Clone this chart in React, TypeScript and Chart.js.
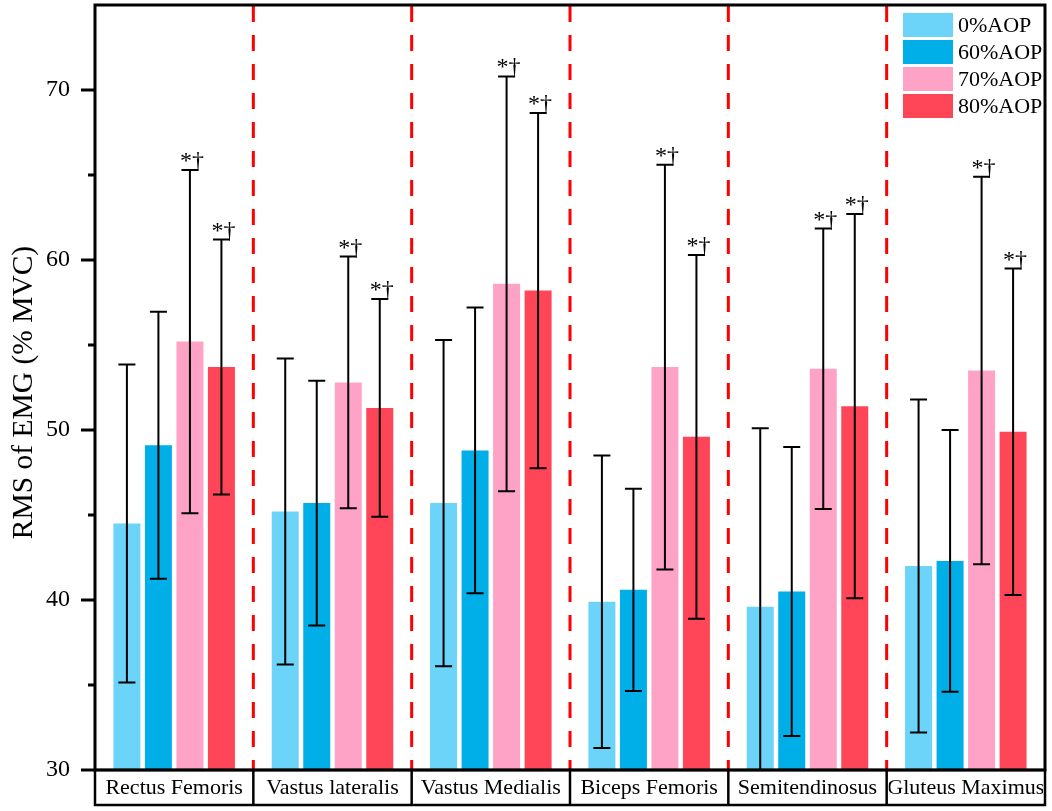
import React, { useEffect, useRef } from 'react';
import { Chart, registerables } from 'chart.js';

Chart.register(...registerables);

const categories = ['Rectus Femoris', 'Vastus lateralis', 'Vastus Medialis', 'Biceps Femoris', 'Semitendinosus', 'Gluteus Maximus'];
const seriesLabels = ['0%AOP', '60%AOP', '70%AOP', '80%AOP'];
const seriesColors = ['#6cd4f8', '#00aee8', '#ffa3c6', '#ff4659'];

const mean0 = [44.5, 45.2, 45.7, 39.9, 39.6, 42.0];
const sd0 = [9.35, 9.0, 9.6, 8.6, 10.5, 9.8];
const mean60 = [49.1, 45.7, 48.8, 40.6, 40.5, 42.3];
const sd60 = [7.85, 7.2, 8.4, 5.95, 8.5, 7.7];
const mean70 = [55.2, 52.8, 58.6, 53.7, 53.6, 53.5];
const sd70 = [10.1, 7.4, 12.2, 11.9, 8.25, 11.4];
const mean80 = [53.7, 51.3, 58.2, 49.6, 51.4, 49.9];
const sd80 = [7.5, 6.4, 10.45, 10.7, 11.3, 9.6];

const sig0 = ['', '', '', '', '', ''];
const sig60 = ['', '', '', '', '', ''];
const sig70 = ['*†', '*†', '*†', '*†', '*†', '*†'];
const sig80 = ['*†', '*†', '*†', '*†', '*†', '*†'];

const yMin = 30;
const yMax = 75;
const yStep = 10;
const yMinorTicks = [35, 45, 55, 65];
const yTitle = 'RMS of EMG (% MVC)';

const means = [mean0, mean60, mean70, mean80];
const sds = [sd0, sd60, sd70, sd80];
const sigs = [sig0, sig60, sig70, sig80];

const FONT = '"Liberation Serif", "Times New Roman", serif';

const decorPlugin = {
  id: 'decor',
  beforeDatasetsDraw(chart: any) {
    const { ctx, chartArea, scales } = chart;
    const { top, bottom } = chartArea;
    const x = scales.x;
    ctx.save();
    ctx.strokeStyle = '#ff0000';
    ctx.lineWidth = 3;
    ctx.setLineDash([16, 13]);
    for (let i = 1; i < categories.length; i++) {
      const px = (x.getPixelForValue(i - 1) + x.getPixelForValue(i)) / 2;
      ctx.beginPath();
      ctx.moveTo(px, top + 1);
      ctx.lineTo(px, bottom);
      ctx.stroke();
    }
    ctx.restore();
  },
  afterDatasetsDraw(chart: any) {
    const { ctx, chartArea, scales } = chart;
    const y = scales.y;
    ctx.save();
    ctx.beginPath();
    ctx.rect(chartArea.left, chartArea.top, chartArea.right - chartArea.left, chartArea.bottom - chartArea.top);
    ctx.clip();
    chart.data.datasets.forEach((_ds: any, di: number) => {
      const meta = chart.getDatasetMeta(di);
      meta.data.forEach((bar: any, i: number) => {
        const m = means[di][i];
        const s = sds[di][i];
        const yHi = y.getPixelForValue(m + s);
        const yLo = y.getPixelForValue(m - s);
        const cx = bar.x;
        const hw = 8.5;
        ctx.strokeStyle = '#000';
        ctx.lineWidth = 2;
        ctx.beginPath();
        ctx.moveTo(cx, yLo);
        ctx.lineTo(cx, yHi);
        ctx.moveTo(cx - hw, yHi);
        ctx.lineTo(cx + hw, yHi);
        ctx.moveTo(cx - hw, yLo);
        ctx.lineTo(cx + hw, yLo);
        ctx.stroke();
        const label = sigs[di][i];
        if (label) {
          ctx.fillStyle = '#000';
          ctx.font = `24px ${FONT}`;
          ctx.textAlign = 'left';
          ctx.textBaseline = 'alphabetic';
          ctx.fillText(label, cx - 10, yHi - 2);
        }
      });
    });
    ctx.restore();
  },
  afterDraw(chart: any) {
    const { ctx, chartArea, scales } = chart;
    const { left, right, top, bottom } = chartArea;
    const x = scales.x;
    const y = scales.y;
    ctx.save();
    // frame
    ctx.strokeStyle = '#000';
    ctx.lineWidth = 3;
    ctx.strokeRect(left, top, right - left, bottom - top);
    // major ticks
    const majors: number[] = [];
    for (let v = yMin; v <= yMax; v += yStep) majors.push(v);
    ctx.beginPath();
    majors.forEach((v) => {
      const py = y.getPixelForValue(v);
      ctx.moveTo(left - 14, py);
      ctx.lineTo(left, py);
    });
    yMinorTicks.forEach((v) => {
      const py = y.getPixelForValue(v);
      ctx.moveTo(left - 7, py);
      ctx.lineTo(left, py);
    });
    ctx.stroke();
    // category label boxes
    const boxBottom = bottom + 35;
    ctx.lineWidth = 2.5;
    ctx.strokeRect(left, bottom, right - left, boxBottom - bottom);
    const bounds: number[] = [left];
    for (let i = 1; i < categories.length; i++) {
      bounds.push((x.getPixelForValue(i - 1) + x.getPixelForValue(i)) / 2);
    }
    bounds.push(right);
    ctx.beginPath();
    for (let i = 1; i < bounds.length - 1; i++) {
      ctx.moveTo(bounds[i], bottom);
      ctx.lineTo(bounds[i], boxBottom);
    }
    ctx.stroke();
    ctx.fillStyle = '#000';
    ctx.font = `22px ${FONT}`;
    ctx.textAlign = 'center';
    ctx.textBaseline = 'middle';
    categories.forEach((c, i) => {
      ctx.save();
      ctx.beginPath();
      ctx.rect(bounds[i] + 2, bottom, bounds[i + 1] - bounds[i] - 4, boxBottom - bottom);
      ctx.clip();
      ctx.fillText(c, (bounds[i] + bounds[i + 1]) / 2, (bottom + boxBottom) / 2 + 1);
      ctx.restore();
    });
    // y title (sized to span ~293px like the reference)
    ctx.save();
    ctx.font = `28px ${FONT}`;
    const w28 = ctx.measureText(yTitle).width || 280;
    let fs = (28 * 293) / w28;
    fs = Math.max(24, Math.min(33, fs));
    ctx.translate(24, (top + bottom) / 2 + 5);
    ctx.rotate(-Math.PI / 2);
    ctx.font = `${fs.toFixed(1)}px ${FONT}`;
    ctx.textAlign = 'center';
    ctx.textBaseline = 'middle';
    ctx.fillText(yTitle, 0, 0);
    ctx.restore();
    // legend
    const lx = right - 142;
    let ly = top + 8;
    ctx.font = `22px ${FONT}`;
    ctx.textAlign = 'left';
    ctx.textBaseline = 'middle';
    seriesLabels.forEach((lab, i) => {
      ctx.fillStyle = seriesColors[i];
      ctx.fillRect(lx, ly, 50, 24);
      ctx.fillStyle = '#000';
      ctx.fillText(lab, lx + 55, ly + 13);
      ly += 27;
    });
    ctx.restore();
  },
};

export default function App() {
  const canvasRef = useRef<HTMLCanvasElement | null>(null);

  useEffect(() => {
    const canvas = canvasRef.current;
    if (!canvas) return;
    const chart = new Chart(canvas, {
      type: 'bar',
      data: {
        labels: categories,
        datasets: seriesLabels.map((lab, i) => ({
          label: lab,
          data: means[i],
          backgroundColor: seriesColors[i],
          borderWidth: 0,
          barPercentage: 0.857,
          categoryPercentage: 0.796,
        })),
      },
      options: {
        responsive: false,
        animation: false,
        layout: { padding: { top: 5, right: 7, bottom: 5, left: 0 } },
        plugins: {
          legend: { display: false },
          tooltip: { enabled: false },
          title: { display: false },
        },
        scales: {
          x: {
            type: 'category',
            grid: { display: false },
            border: { display: false },
            ticks: { display: false },
            afterFit: (s: any) => {
              s.height = 36;
              s.paddingLeft = 0;
              s.paddingRight = 0;
              s.paddingTop = 0;
              s.paddingBottom = 0;
            },
          },
          y: {
            min: yMin,
            max: yMax,
            grid: { display: false, drawTicks: false },
            border: { display: false },
            ticks: {
              stepSize: yStep,
              includeBounds: false,
              color: '#000',
              padding: 25,
              font: { family: FONT, size: 24 },
            },
            afterFit: (s: any) => {
              s.width = 95;
              s.paddingTop = 0;
              s.paddingBottom = 0;
              s.paddingLeft = 0;
              s.paddingRight = 0;
            },
          },
        },
      },
      plugins: [decorPlugin],
    } as any);
    return () => chart.destroy();
  }, []);

  return (
    <div style={{ position: 'absolute', left: 0, top: 0, width: 1052, height: 811, background: '#fff' }}>
      <canvas ref={canvasRef} width={1052} height={811} style={{ width: 1052, height: 811, display: 'block' }} />
    </div>
  );
}
